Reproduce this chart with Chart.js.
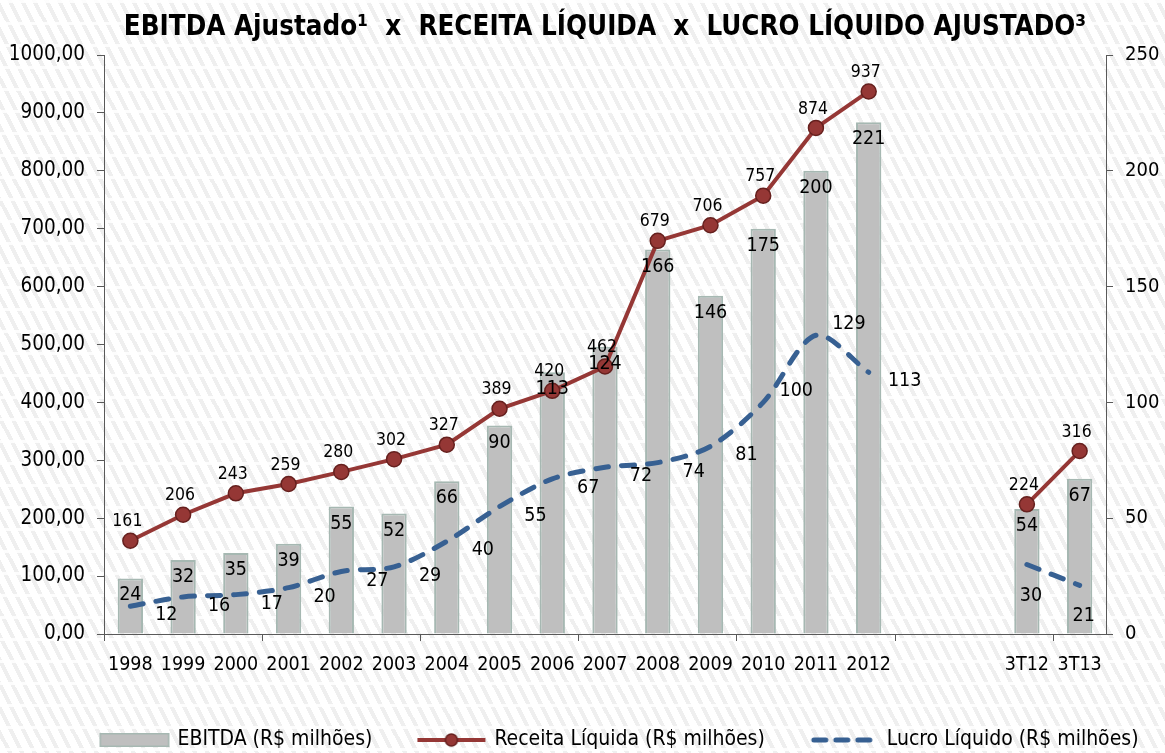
<!DOCTYPE html>
<html><head><meta charset="utf-8">
<script src="https://cdn.jsdelivr.net/npm/chart.js@4.4.1/dist/chart.umd.min.js"></script>
<style>
html,body{margin:0;padding:0;}
body{width:1165px;height:753px;overflow:hidden;background-color:#fff;
background-image:
 repeating-linear-gradient(180deg, rgba(255,255,255,0.85) 0 3px, rgba(255,255,255,0) 3px 22px),
 repeating-linear-gradient(63deg, #ffffff 0 7px, #efefef 7px 11px);}
#wrap{position:relative;width:1165px;height:753px;}
</style></head>
<body><div id="wrap"><canvas id="c"></canvas></div>
<script>
const categories = ['1998','1999','2000','2001','2002','2003','2004','2005','2006','2007','2008','2009','2010','2011','2012','','','3T12','3T13'];
const ebitda  = [24,32,35,39,55,52,66,90,113,124,166,146,175,200,221,null,null,54,67];
const receita = [161,206,243,259,280,302,327,389,420,462,679,706,757,874,937,null,null,224,316];
const lucro   = [12,16,17,20,27,29,40,55,67,72,74,81,100,129,113,null,null,30,21];
const lucroLabelPos = ['right','right','right','right','right','right','right','right','right','right','right','right','rightAbove','rightAbove','right',null,null,'below','below'];
const leftAxis  = {min:0, max:1000, step:100};
const rightAxis = {min:0, max:250, step:50};
const seriesNames = ['EBITDA (R$ milhões)','Receita Líquida (R$ milhões)','Lucro Líquido (R$ milhões)'];
const titleText = 'EBITDA Ajustado¹  x  RECEITA LÍQUIDA  x  LUCRO LÍQUIDO AJUSTADO³';

const FONT = "'DejaVu Sans Condensed', 'Open Sans', 'DejaVu Sans', sans-serif";
const barFill = '#bfbfbf', barBorder = '#a6b8b2';
const recColor = '#953735', recBorder = '#66201e';
const lucColor = '#376092';
const axisColor = '#595959';

function swatch(kind){
  const c=document.createElement('canvas'); c.width=72; c.height=18;
  const g=c.getContext('2d');
  if(kind==='bar'){
    g.fillStyle=barFill; g.fillRect(1,2,70,14);
    g.strokeStyle=barBorder; g.lineWidth=1.5; g.strokeRect(1.75,2.75,68.5,12.5);
  } else if(kind==='line'){
    g.strokeStyle=recColor; g.lineWidth=4; g.beginPath(); g.moveTo(2,9); g.lineTo(70,9); g.stroke();
    g.beginPath(); g.arc(36,9,6,0,Math.PI*2); g.fillStyle=recColor; g.fill();
    g.strokeStyle=recBorder; g.lineWidth=1.5; g.stroke();
  } else {
    g.strokeStyle=lucColor; g.lineWidth=5; g.lineCap='round';
    [[6,18],[28,40],[50,62]].forEach(s=>{g.beginPath(); g.moveTo(s[0],9); g.lineTo(s[1],9); g.stroke();});
  }
  return c;
}
const swatches = [swatch('bar'), swatch('line'), swatch('dash')];

const labelPlugin = {
  id:'valueLabels',
  afterDatasetsDraw(chart){
    const ctx=chart.ctx; ctx.save();
    ctx.fillStyle='#000'; ctx.textAlign='center'; ctx.textBaseline='middle';
    chart.data.datasets.forEach((ds,i)=>{
      const meta=chart.getDatasetMeta(i);
      meta.data.forEach((el,j)=>{
        const v=ds.data[j]; if(v==null) return;
        let x=el.x, y=el.y;
        if(ds.labelKind==='bar'){ ctx.font='19.5px '+FONT; y+=17; }
        else if(ds.labelKind==='receita'){ ctx.font='17.5px '+FONT; x-=3; y-=19; }
        else {
          ctx.font='19.5px '+FONT;
          const p=lucroLabelPos[j];
          if(p==='right'){x+=36; y+=9;}
          else if(p==='rightAbove'){x+=33; y-=11;}
          else {x+=4; y+=31;}
        }
        ctx.fillText(String(v),x,y);
      });
    });
    ctx.restore();
  }
};

const legendPlugin = {
  id:'bottomLegend',
  afterDraw(chart){
    const ctx=chart.ctx, ca=chart.chartArea;
    ctx.save();
    ctx.font='21px '+FONT; ctx.textBaseline='middle'; ctx.textAlign='left'; ctx.fillStyle='#000';
    const sw=70, gap=8, sep=44;
    const widths=seriesNames.map(t=>sw+gap+ctx.measureText(t).width);
    const total=widths.reduce((a,b)=>a+b,0)+sep*(seriesNames.length-1);
    let x=(ca.left+ca.right)/2+14-total/2;
    const y=ca.bottom+106;
    seriesNames.forEach((t,k)=>{
      ctx.drawImage(swatches[k], x-1, y-9);
      ctx.fillText(t, x+sw+gap, y);
      x+=widths[k]+sep;
    });
    ctx.restore();
  }
};

new Chart(document.getElementById('c'), {
  data:{
    labels:categories,
    datasets:[
      {type:'line', label:seriesNames[1], data:receita, yAxisID:'y', labelKind:'receita',
       borderColor:recColor, borderWidth:4, pointRadius:7.5, pointHoverRadius:7.5,
       pointBackgroundColor:recColor, pointBorderColor:recBorder, pointBorderWidth:1.5,
       tension:0, spanGaps:false},
      {type:'line', label:seriesNames[2], data:lucro, yAxisID:'y1', labelKind:'lucro',
       borderColor:lucColor, borderWidth:5, borderDash:[13,13], borderCapStyle:'round',
       pointRadius:0, tension:0.3, spanGaps:false},
      {type:'bar', label:seriesNames[0], data:ebitda, yAxisID:'y1', labelKind:'bar',
       backgroundColor:barFill, borderColor:barBorder, borderWidth:2,
       barPercentage:0.6, categoryPercentage:0.8}
    ]
  },
  options:{
    responsive:true, maintainAspectRatio:false, animation:false,
    layout:{padding:{left:0,right:0,top:0,bottom:0}},
    plugins:{
      tooltip:{enabled:false},
      legend:{display:false},
      title:{display:true, text:titleText, fullSize:false, color:'#000',
        font:{family:FONT, size:27.5, weight:'bold'}, padding:{top:11,bottom:11}}
    },
    scales:{
      x:{
        grid:{offset:true, drawOnChartArea:false, tickLength:7,
          color:(c)=> (c.index!==undefined && c.index%3===0) ? axisColor : 'rgba(0,0,0,0)'},
        border:{color:axisColor, width:1},
        ticks:{color:'#000', font:{family:FONT, size:19.5}, padding:12, autoSkip:false, maxRotation:0},
        afterFit(s){ s.height=119; }
      },
      y:{
        position:'left', min:leftAxis.min, max:leftAxis.max,
        grid:{drawOnChartArea:false, tickLength:7, color:axisColor},
        border:{color:axisColor, width:1},
        ticks:{stepSize:leftAxis.step, color:'#000', font:{family:FONT, size:20.5}, padding:12,
          callback:(v)=> Number(v).toFixed(2).replace('.',',')},
        afterFit(s){ s.width=104; }
      },
      y1:{
        position:'right', min:rightAxis.min, max:rightAxis.max,
        grid:{drawOnChartArea:false, tickLength:7, color:axisColor},
        border:{color:axisColor, width:1},
        ticks:{stepSize:rightAxis.step, color:'#000', font:{family:FONT, size:20}, padding:12},
        afterFit(s){ s.width=59; }
      }
    }
  },
  plugins:[labelPlugin, legendPlugin]
});
</script>
</body></html>
